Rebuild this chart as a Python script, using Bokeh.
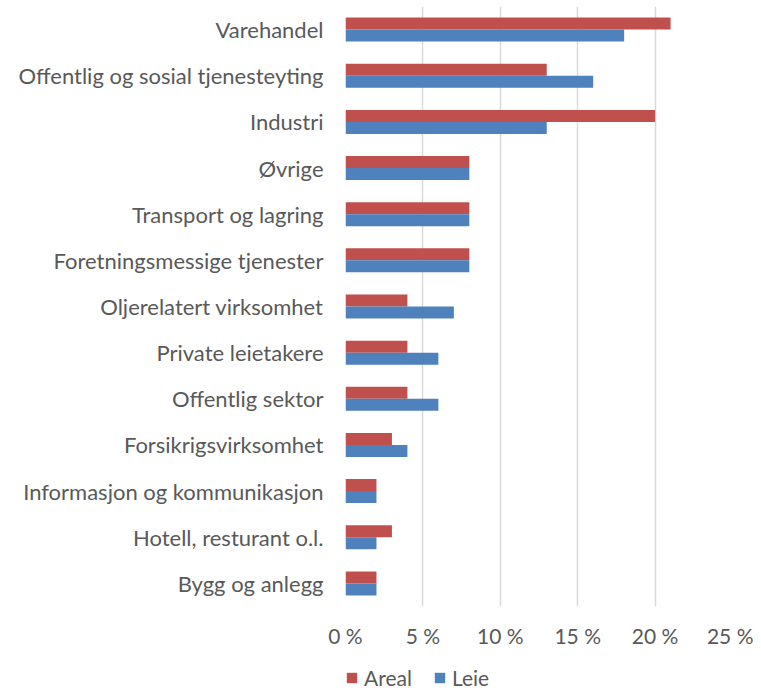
from bokeh.plotting import figure
from bokeh.layouts import column
from bokeh.models import FactorRange, Legend, LegendItem, FixedTicker, CustomJSTickFormatter
from bokeh.transform import dodge
from bokeh.embed import file_html
from bokeh.resources import INLINE

categories = ["Varehandel", "Offentlig og sosial tjenesteyting", "Industri", "Øvrige",
              "Transport og lagring", "Foretningsmessige tjenester", "Oljerelatert virksomhet",
              "Private leietakere", "Offentlig sektor", "Forsikrigsvirksomhet",
              "Informasjon og kommunikasjon", "Hotell, resturant o.l.", "Bygg og anlegg"]
areal = [21, 13, 20, 8, 8, 8, 4, 4, 4, 3, 2, 3, 2]
leie = [18, 16, 13, 8, 8, 8, 7, 6, 6, 4, 2, 2, 2]
x_ticks = [0, 5, 10, 15, 20, 25]
series_names = ["Areal", "Leie"]

FONT = "Lato"
TXT = "#595959"
RED = "#C0504D"
BLUE = "#4F81BD"

p = figure(width=753, height=651, output_backend="svg", toolbar_location=None,
           y_range=FactorRange(factors=list(reversed(categories))),
           x_range=(0, 25),
           min_border_left=345, min_border_right=21, min_border_top=6, min_border_bottom=45)
p.outline_line_color = None

src = dict(cat=categories, areal=areal, leie=leie)
p.hbar(y=dodge("cat", 0.13, range=p.y_range), right="areal", left=0, height=0.26,
       source=src, fill_color=RED, line_color=None)
p.hbar(y=dodge("cat", -0.13, range=p.y_range), right="leie", left=0, height=0.26,
       source=src, fill_color=BLUE, line_color=None)

p.xaxis.ticker = FixedTicker(ticks=x_ticks)
p.xaxis.formatter = CustomJSTickFormatter(code="return tick + ' %';")
p.xaxis.axis_line_color = None
p.xaxis.major_tick_line_color = None
p.xaxis.minor_tick_line_color = None
p.xaxis.major_label_standoff = 10
p.xaxis.major_label_text_font = FONT
p.xaxis.major_label_text_font_size = "21px"
p.xaxis.major_label_text_color = TXT

p.yaxis.axis_line_color = None
p.yaxis.major_tick_line_color = None
p.yaxis.minor_tick_line_color = None
p.yaxis.major_label_standoff = 16
p.yaxis.major_label_text_font = FONT
p.yaxis.major_label_text_font_size = "22px"
p.yaxis.major_label_text_color = TXT

p.ygrid.grid_line_color = None
p.xgrid.grid_line_color = "#d9d9d9"
p.xgrid.grid_line_width = 1.5

# Legend row (a separate strip so the legend is not clipped by the main frame)
pl = figure(width=753, height=40, output_backend="svg", toolbar_location=None,
            x_range=(0, 1), y_range=(0, 1),
            min_border_left=302, min_border_right=0, min_border_top=14, min_border_bottom=0)
pl.outline_line_color = None
pl.axis.visible = False
pl.grid.visible = False
# swatch renderers, kept outside the visible range
la = pl.quad(left=[5], right=[6], top=[6], bottom=[5], fill_color=RED, line_color=None)
lb = pl.quad(left=[5], right=[6], top=[6], bottom=[5], fill_color=BLUE, line_color=None)
legend = Legend(items=[LegendItem(label=series_names[0], renderers=[la]),
                       LegendItem(label=series_names[1], renderers=[lb])],
                orientation="horizontal", location="top_left")
legend.border_line_color = None
legend.background_fill_alpha = 0
legend.padding = 0
legend.margin = 0
legend.spacing = 21
legend.label_standoff = 6
legend.glyph_width = 13
legend.glyph_height = 13
legend.label_text_font = FONT
legend.label_text_font_size = "21px"
legend.label_text_color = TXT
pl.add_layout(legend, "center")

layout = column(p, pl, spacing=0)
open("out.html", "w").write(file_html(layout, INLINE))
